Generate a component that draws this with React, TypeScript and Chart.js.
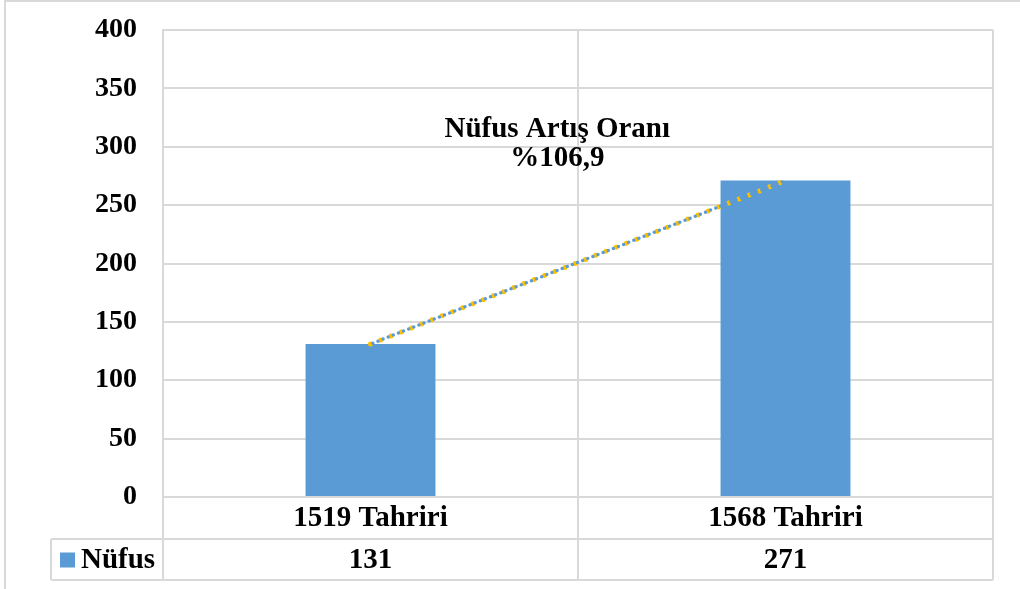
import React, { useEffect, useRef } from "react";
import { Chart, registerables } from "chart.js";

Chart.register(...registerables);

const categories = ["1519 Tahriri", "1568 Tahriri"];
const nufus = [131, 271];
const trend = [131, 271];
const seriesName = "Nüfus";
const noteLines = ["Nüfus Artış Oranı", "%106,9"];
const noteAt = { x: 0.45, y1: 315, y2: 290 };

const FONT = '"Liberation Serif", "Times New Roman", serif';
const GRID = "#d9d9d9";
const BLUE = "#5B9BD5";
const YELLOW = "#FFC000";

const framePlugin = {
  id: "frame",
  beforeDraw(chart: any) {
    const ctx = chart.ctx;
    ctx.save();
    ctx.strokeStyle = GRID;
    ctx.lineWidth = 2;
    ctx.beginPath();
    ctx.moveTo(5, 589);
    ctx.lineTo(5, 1);
    ctx.lineTo(1020, 1);
    ctx.stroke();
    ctx.restore();
  },
};

const tablePlugin = {
  id: "dataTable",
  afterDraw(chart: any) {
    const ctx = chart.ctx;
    const area = chart.chartArea;
    const xs = chart.scales.x;
    const ys = chart.scales.y;
    const bottom = area.bottom;
    const row1 = bottom + 42;
    const row2 = bottom + 83;
    const legendLeft = area.left - 112;
    ctx.save();
    ctx.strokeStyle = GRID;
    ctx.lineWidth = 2;
    ctx.beginPath();
    ctx.moveTo(legendLeft, row1);
    ctx.lineTo(area.right, row1);
    ctx.moveTo(legendLeft, row2);
    ctx.lineTo(area.right, row2);
    ctx.moveTo(legendLeft, row1);
    ctx.lineTo(legendLeft, row2);
    const n = categories.length;
    const w = (area.right - area.left) / n;
    for (let i = 0; i <= n; i++) {
      const x = area.left + i * w;
      ctx.moveTo(x, bottom);
      ctx.lineTo(x, row2);
    }
    ctx.stroke();

    ctx.fillStyle = "#000";
    ctx.font = `bold 29px ${FONT}`;
    ctx.textAlign = "center";
    ctx.textBaseline = "middle";
    categories.forEach((c, i) => {
      const x = xs.getPixelForValue(i);
      ctx.fillText(c, x, (bottom + row1) / 2 + 1);
      ctx.fillText(String(nufus[i]), x, (row1 + row2) / 2 + 1);
    });
    // legend cell
    ctx.fillStyle = BLUE;
    ctx.fillRect(legendLeft + 9, (row1 + row2) / 2 - 7, 15, 15);
    ctx.fillStyle = "#000";
    ctx.textAlign = "left";
    ctx.fillText(seriesName, legendLeft + 30, (row1 + row2) / 2 + 1);

    // annotation
    ctx.textAlign = "center";
    const ax = xs.getPixelForValue(noteAt.x);
    ctx.fillText(noteLines[0], ax, ys.getPixelForValue(noteAt.y1));
    ctx.fillText(noteLines[1], ax, ys.getPixelForValue(noteAt.y2));
    ctx.restore();
  },
};

export default function App() {
  const ref = useRef<HTMLCanvasElement>(null);
  useEffect(() => {
    if (!ref.current) return;
    const chart = new Chart(ref.current, {
      type: "bar",
      data: {
        labels: categories,
        datasets: [
          {
            type: "line",
            label: "trend-yellow",
            data: trend,
            borderColor: YELLOW,
            borderWidth: 5,
            borderDash: [0, 11],
            borderCapStyle: "round",
            pointRadius: 0,
            order: 1,
          } as any,
          {
            type: "line",
            label: "trend-blue",
            data: trend,
            borderColor: BLUE,
            borderWidth: 3.5,
            borderDash: [0, 5.5],
            borderDashOffset: 3,
            borderCapStyle: "round",
            pointRadius: 0,
            order: 0,
          } as any,
          {
            label: seriesName,
            data: nufus,
            backgroundColor: BLUE,
            barPercentage: 0.313,
            categoryPercentage: 1,
            order: 2,
          },
        ],
      },
      options: {
        animation: false,
        responsive: true,
        maintainAspectRatio: false,
        layout: { padding: { top: 30, right: 27, bottom: 92, left: 0 } },
        plugins: { legend: { display: false }, tooltip: { enabled: false } },
        scales: {
          x: {
            grid: { color: GRID, lineWidth: 2, offset: true, drawTicks: false },
            border: { display: false },
            ticks: { display: false },
          },
          y: {
            min: 0,
            max: 400,
            afterFit(scale: any) {
              scale.width = 163;
              scale.paddingTop = 0;
              scale.paddingBottom = 0;
            },
            grid: { color: GRID, lineWidth: 2, drawTicks: false },
            border: { display: true, color: GRID, width: 2 },
            ticks: {
              stepSize: 50,
              padding: 26,
              color: "#000",
              font: { family: FONT, size: 28, weight: "bold" },
            },
          },
        },
      },
      plugins: [framePlugin, tablePlugin],
    });
    return () => chart.destroy();
  }, []);
  return (
    <div style={{ position: "fixed", left: 0, top: 0, width: 1020, height: 589, background: "#fff" }}>
      <canvas ref={ref} />
    </div>
  );
}
